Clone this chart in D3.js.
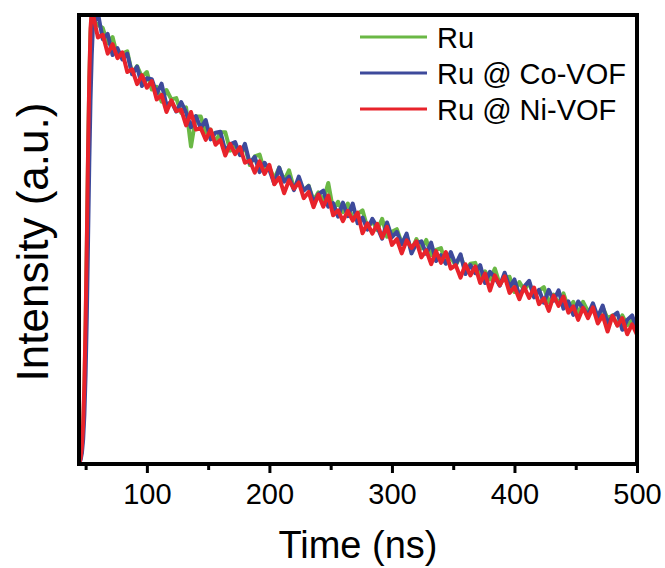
<!DOCTYPE html>
<html><head><meta charset="utf-8">
<script src="https://cdn.jsdelivr.net/npm/d3@7"></script>
<style>body{margin:0;background:#fff}</style>
</head><body><svg id="c" width="665" height="568"></svg>
<script>
const times = [45,46,47,48,49,50,51,52,53,54,55,
56,60,64,68,72,76,80,84,88,92,96,100,104,108,112,116,120,124,128,132,136,140,144,148,152,156,160,164,168,172,176,180,184,188,192,196,200,204,208,212,216,220,224,228,232,236,240,244,248,252,256,260,264,268,272,276,280,284,288,292,296,300,304,308,312,316,320,324,328,332,336,340,344,348,352,356,360,364,368,372,376,380,384,388,392,396,400,404,408,412,416,420,424,428,432,436,440,444,448,452,456,460,464,468,472,476,480,484,488,492,496,500];

const ru = [0.4,1.4,3.8,8.5,17,31,49,69,85,96,100,
98.8,97.8,97.1,93.7,95.1,90.7,91.4,91.9,86.9,88.6,
86.2,87.3,83.4,84.0,80.7,83.3,81.2,81.5,78.2,79.4,
70.7,77.4,77.4,73.8,74.5,71.7,73.9,73.9,69.8,71.1,
68.9,70.7,66.6,68.5,68.9,65.1,66.0,63.5,66.0,63.1,
65.4,61.4,63.0,61.0,62.0,58.7,60.5,58.6,62.6,56.6,
58.4,56.1,58.0,54.6,55.7,56.5,52.6,54.1,52.1,54.6,
50.6,51.7,52.3,49.2,50.7,47.6,50.1,48.0,49.9,46.5,
47.7,48.1,44.7,46.1,44.2,46.4,43.1,44.6,44.8,41.4,
42.9,41.1,43.5,40.0,41.5,41.7,38.3,40.5,38.7,40.4,
37.4,38.6,39.4,36.0,37.7,35.7,38.0,34.7,36.1,33.6,
36.1,34.0,35.1,32.5,34.9,32.4,33.1,30.9,33.1,30.9,
32.0,29.5];

const ruCo = [0.3,1.0,2.5,5.5,11,20,33,50,67,81,91,
97.5,100.5,94.6,95.8,91.1,92.6,90.1,91.4,86.8,88.5,
84.2,85.9,85.7,82.5,84.7,79.9,80.7,78.5,80.6,78.3,
75.0,77.5,74.8,76.6,72.3,73.8,74.0,69.7,71.2,71.7,
68.8,71.3,67.0,68.4,65.0,67.1,65.5,62.4,66.0,62.9,
64.0,61.0,64.0,60.9,61.9,58.2,60.1,60.9,57.3,58.1,
55.1,58.2,55.2,58.0,53.6,54.9,52.2,54.6,52.8,50.2,
53.8,50.5,51.7,48.9,51.3,46.9,49.2,49.6,46.8,49.3,
45.2,46.5,44.6,47.2,44.4,46.7,42.3,44.3,42.5,44.3,
40.3,42.8,41.6,39.7,42.6,39.4,41.1,37.5,39.5,40.8,
37.1,38.8,35.9,38.8,36.4,38.7,34.6,36.2,33.2,36.2,
34.7,33.2,35.8,32.7,35.3,31.3,32.9,33.7,29.9,32.1,
33.1,29.9];

const ruNi = [0.4,1.5,4,9,18,32,50,70,86,97,101,
100.2,95.0,95.6,91.4,93.5,90.4,91.7,87.3,87.9,84.6,
86.6,83.8,85.3,81.2,82.2,78.4,81.0,78.6,78.9,75.4,
78.4,74.5,74.8,72.2,74.5,71.1,72.2,68.7,71.3,69.0,
70.6,67.1,67.6,64.9,67.4,64.6,66.6,62.3,63.8,60.3,
63.2,61.3,62.7,59.2,60.6,57.2,60.0,57.3,59.8,55.4,
56.5,54.1,56.4,54.2,56.0,51.4,53.6,51.3,53.5,50.4,
52.8,48.8,50.1,46.9,49.8,48.1,49.6,46.0,47.6,44.5,
47.4,44.8,47.2,43.5,44.3,41.5,44.5,42.0,44.0,40.3,
42.4,38.6,42.0,39.8,41.8,38.1,39.4,36.7,39.4,37.0,
39.3,35.6,36.9,34.1,37.5,35.2,37.3,33.7,35.1,32.1,
34.8,32.5,34.9,31.3,33.1,29.5,33.0,30.8,32.5,28.9,
31.1,28.8];

const seriesNames = ["Ru", "Ru @ Co-VOF", "Ru @ Ni-VOF"];
const seriesColors = ["#6ab845", "#3e4a9b", "#e8232b"];
const xMajorTicks = [100, 200, 300, 400, 500];
const xMinorTicks = [50, 150, 250, 350, 450];

const svg = d3.select("#c");
const L = 79, T = 15, R = 637, B = 464;
const x = d3.scaleLinear().domain([44.6, 500]).range([L, R]);
const y = d3.scaleLinear().domain([0, 100]).range([B, T]);
const FONT = "Arial, 'Liberation Sans', sans-serif";

svg.append("defs").append("clipPath").attr("id", "clip")
  .append("rect").attr("x", L).attr("y", T).attr("width", R - L).attr("height", B - T);

const series = [ru, ruCo, ruNi];
const line = d3.line().x((d, i) => x(times[i])).y(d => y(d));
const g = svg.append("g").attr("clip-path", "url(#clip)");
series.forEach((s, k) => {
  g.append("path").datum(s).attr("d", line)
    .attr("fill", "none").attr("stroke", seriesColors[k])
    .attr("stroke-width", 4).attr("stroke-linejoin", "round");
});

// axes
const ax = svg.append("g").attr("transform", `translate(0,${B})`)
  .call(d3.axisBottom(x).tickValues(xMajorTicks).tickSize(9).tickPadding(10).tickFormat(d3.format("d")));
ax.select(".domain").remove();
ax.selectAll(".tick line").attr("stroke", "#000").attr("stroke-width", 3);
ax.selectAll(".tick text").attr("font-family", FONT).attr("font-size", 29).attr("fill", "#000");

const axm = svg.append("g").attr("transform", `translate(0,${B})`)
  .call(d3.axisBottom(x).tickValues(xMinorTicks).tickSize(6).tickFormat(""));
axm.select(".domain").remove();
axm.selectAll(".tick line").attr("stroke", "#000").attr("stroke-width", 3);

// frame
svg.append("rect").attr("x", L).attr("y", T).attr("width", R - L).attr("height", B - T)
  .attr("fill", "none").attr("stroke", "#000").attr("stroke-width", 4);

// axis titles
svg.append("text").attr("x", 358).attr("y", 558)
  .attr("text-anchor", "middle").attr("font-family", FONT).attr("font-size", 38).text("Time (ns)");
svg.append("text").attr("transform", `translate(48,242) rotate(-90)`)
  .attr("text-anchor", "middle").attr("font-family", FONT).attr("font-size", 44).text("Intensity (a.u.)");

// legend
const leg = svg.append("g");
seriesNames.forEach((n, k) => {
  const yy = 37 + k * 36;
  leg.append("line").attr("x1", 360).attr("x2", 427).attr("y1", yy).attr("y2", yy)
    .attr("stroke", seriesColors[k]).attr("stroke-width", 3);
  leg.append("text").attr("x", 437).attr("y", yy + 10.5)
    .attr("font-family", FONT).attr("font-size", 29).text(n);
});
</script></body></html>
